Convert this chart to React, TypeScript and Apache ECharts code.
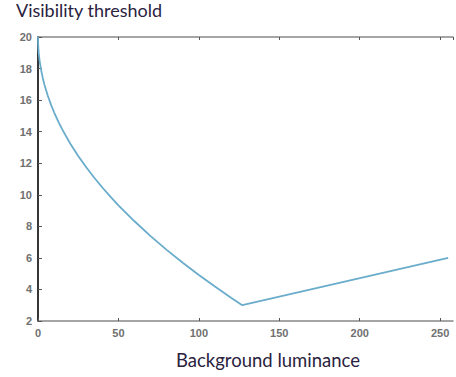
import React, { useEffect, useRef } from "react";
import * as echarts from "echarts";

const bgLuminance = [0, 0.1, 0.25, 0.5, 1, 2, 3, 4, 6, 8, 10, 13, 15, 20, 25, 30, 35, 40, 45, 50, 60, 70, 80, 90, 100, 110, 120, 127, 255];
const threshold = [20, 19.52, 19.25, 18.93, 18.49, 17.87, 17.39, 16.98, 16.31, 15.73, 15.23, 14.56, 14.16, 13.25, 12.46, 11.74, 11.08, 10.46, 9.88, 9.33, 8.32, 7.38, 6.51, 5.69, 4.91, 4.18, 3.47, 3, 6];
const titleText = "Visibility threshold";
const xName = "Background luminance";

export default function App() {
  const ref = useRef<HTMLDivElement>(null);
  useEffect(() => {
    const chart = echarts.init(ref.current!, null, { renderer: "svg" });
    const data = bgLuminance.map((x, i) => [x, threshold[i]]);
    const labelStyle = { color: "#707070", fontSize: 11, fontFamily: "Liberation Sans, Arial, sans-serif", fontWeight: "bold" as const };
    chart.setOption({
      animation: false,
      backgroundColor: "#fff",
      grid: { left: 38, right: 3, top: 37, bottom: 56, containLabel: false },
      graphic: [
        { type: "text", x: 16, y: 10, style: { text: titleText, fontSize: 18, fill: "#2a2240", fontFamily: "Lato, sans-serif", verticalAlign: "middle" } },
        { type: "text", x: 176, y: 360, style: { text: xName, fontSize: 18.5, fill: "#2a2240", fontFamily: "Lato, sans-serif", verticalAlign: "middle" } },
      ],
      xAxis: [
        {
          type: "value", min: 0, max: 258, interval: 50, position: "bottom",
          axisLine: { show: true, lineStyle: { color: "#888", width: 1.5 } },
          axisTick: { show: true, inside: true, length: 3, lineStyle: { color: "#555" } },
          axisLabel: { ...labelStyle, margin: 6, showMaxLabel: false },
          splitLine: { show: false },
        },
        {
          type: "value", min: 0, max: 258, interval: 50, position: "top",
          axisLine: { show: true, lineStyle: { color: "#888", width: 1.5 } },
          axisTick: { show: true, inside: true, length: 3, lineStyle: { color: "#555" } },
          axisLabel: { show: false },
          splitLine: { show: false },
        },
      ],
      yAxis: [
        {
          type: "value", min: 2, max: 20, interval: 2, position: "left",
          axisLine: { show: true, lineStyle: { color: "#888", width: 1.5 } },
          axisTick: { show: true, inside: true, length: 4, lineStyle: { color: "#555" } },
          axisLabel: { ...labelStyle, margin: 6 },
          splitLine: { show: false },
        },
        {
          type: "value", min: 2, max: 20, interval: 2, position: "right",
          axisLine: { show: true, lineStyle: { color: "#111", width: 1.5 } },
          axisTick: { show: false },
          axisLabel: { show: false },
          splitLine: { show: false },
        },
      ],
      series: [
        {
          type: "line", data, smooth: false, showSymbol: false, xAxisIndex: 0, yAxisIndex: 0,
          lineStyle: { color: "#6aaccb", width: 1.8 },
        },
      ],
    });
    return () => chart.dispose();
  }, []);
  return <div ref={ref} style={{ width: 456, height: 377, position: "absolute", left: 0, top: 0 }} />;
}
